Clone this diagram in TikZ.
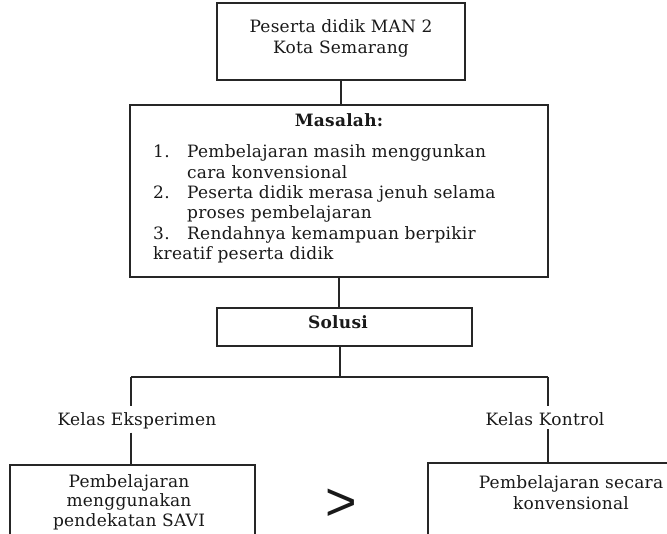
\documentclass[tikz,border=0pt]{standalone}
\usepackage{fontspec}
\setmainfont[LetterSpace=1.5]{DejaVu Serif}
\newfontfamily\gtfont{Liberation Sans}
\begin{document}
\begin{tikzpicture}[x=1pt,y=-1pt,
  box/.style={draw=black!85, line width=1.1pt, inner sep=0pt},
  conn/.style={draw=black!85, line width=1.1pt},
  txt/.style={font=\fontsize{17}{19}\selectfont, inner sep=0pt, text=black!90},
  btxt/.style={txt, font=\fontsize{17}{19}\selectfont\bfseries}]
\useasboundingbox (0,0) rectangle (667,534);
\clip (0,0) rectangle (667,534);
\fill[white] (0,0) rectangle (667,534);

% top box
\node[box, minimum width=248, minimum height=77] (top) at (341,41.5) {};
\node[txt, anchor=base] (t1) at (341,33) {Peserta didik MAN 2};
\node[txt, anchor=base] (t2) at (341,54) {Kota Semarang};

% masalah box
\node[box, minimum width=418, minimum height=172] (mas) at (339,191) {};
\node[btxt, anchor=base] (mh) at (339,127) {Masalah:};
\node[txt, anchor=base west] (n1) at (153,158) {1.};
\node[txt, anchor=base west] (l1) at (187,158) {Pembelajaran masih menggunkan};
\node[txt, anchor=base west] (l2) at (187,178.3) {cara konvensional};
\node[txt, anchor=base west] (n2) at (153,198.6) {2.};
\node[txt, anchor=base west] (l3) at (187,198.6) {Peserta didik merasa jenuh selama};
\node[txt, anchor=base west] (l4) at (187,218.9) {proses pembelajaran};
\node[txt, anchor=base west] (n3) at (153,239.2) {3.};
\node[txt, anchor=base west] (l5) at (187,239.2) {Rendahnya kemampuan berpikir};
\node[txt, anchor=base west] (l6) at (153,259.5) {kreatif peserta didik};

% solusi box
\node[box, minimum width=255, minimum height=38] (sol) at (344.5,327) {};
\node[btxt, anchor=base] (st) at (338,329) {Solusi};

% branch
\coordinate (br) at (340,377);
\coordinate (bl) at (131,377);
\coordinate (bkr) at (548,377);

% labels
\node[txt, anchor=base] (ke) at (137,426) {Kelas Eksperimen};
\node[txt, anchor=base] (kk) at (545,426) {Kelas Kontrol};

% bottom boxes
\node[box, minimum width=245, minimum height=95] (savi) at (132.5,512.5) {};
\node[txt, anchor=base] (s1) at (129,488) {Pembelajaran};
\node[txt, anchor=base] (s2) at (129,507) {menggunakan};
\node[txt, anchor=base] (s3) at (129,526) {pendekatan SAVI};

\node[box, minimum width=272, minimum height=97] (konv) at (564,511.5) {};
\node[txt, anchor=base] (k1) at (571,489) {Pembelajaran secara};
\node[txt, anchor=base] (k2) at (571,509) {konvensional};

\node[font=\gtfont\fontsize{54}{60}\selectfont, inner sep=0pt, anchor=base, text=black!90] (gt) at (341,520) {>};

% connectors
\draw[conn] (top.south) -- (top.south |- mas.north);
\draw[conn] (mas.south) -- (mas.south |- sol.north);
\draw[conn] (br |- sol.south) -- (br);
\draw[conn] (bl) -- (bkr);
\draw[conn, shorten >=7pt] (bl) -- (bl |- ke.north);
\draw[conn, shorten >=7pt] (bkr) -- (bkr |- kk.north);
\draw[conn, shorten <=3pt] (bl |- ke.south) -- (bl |- savi.north);
\draw[conn, shorten <=3pt] (bkr |- kk.south) -- (bkr |- konv.north);
\end{tikzpicture}
\end{document}
